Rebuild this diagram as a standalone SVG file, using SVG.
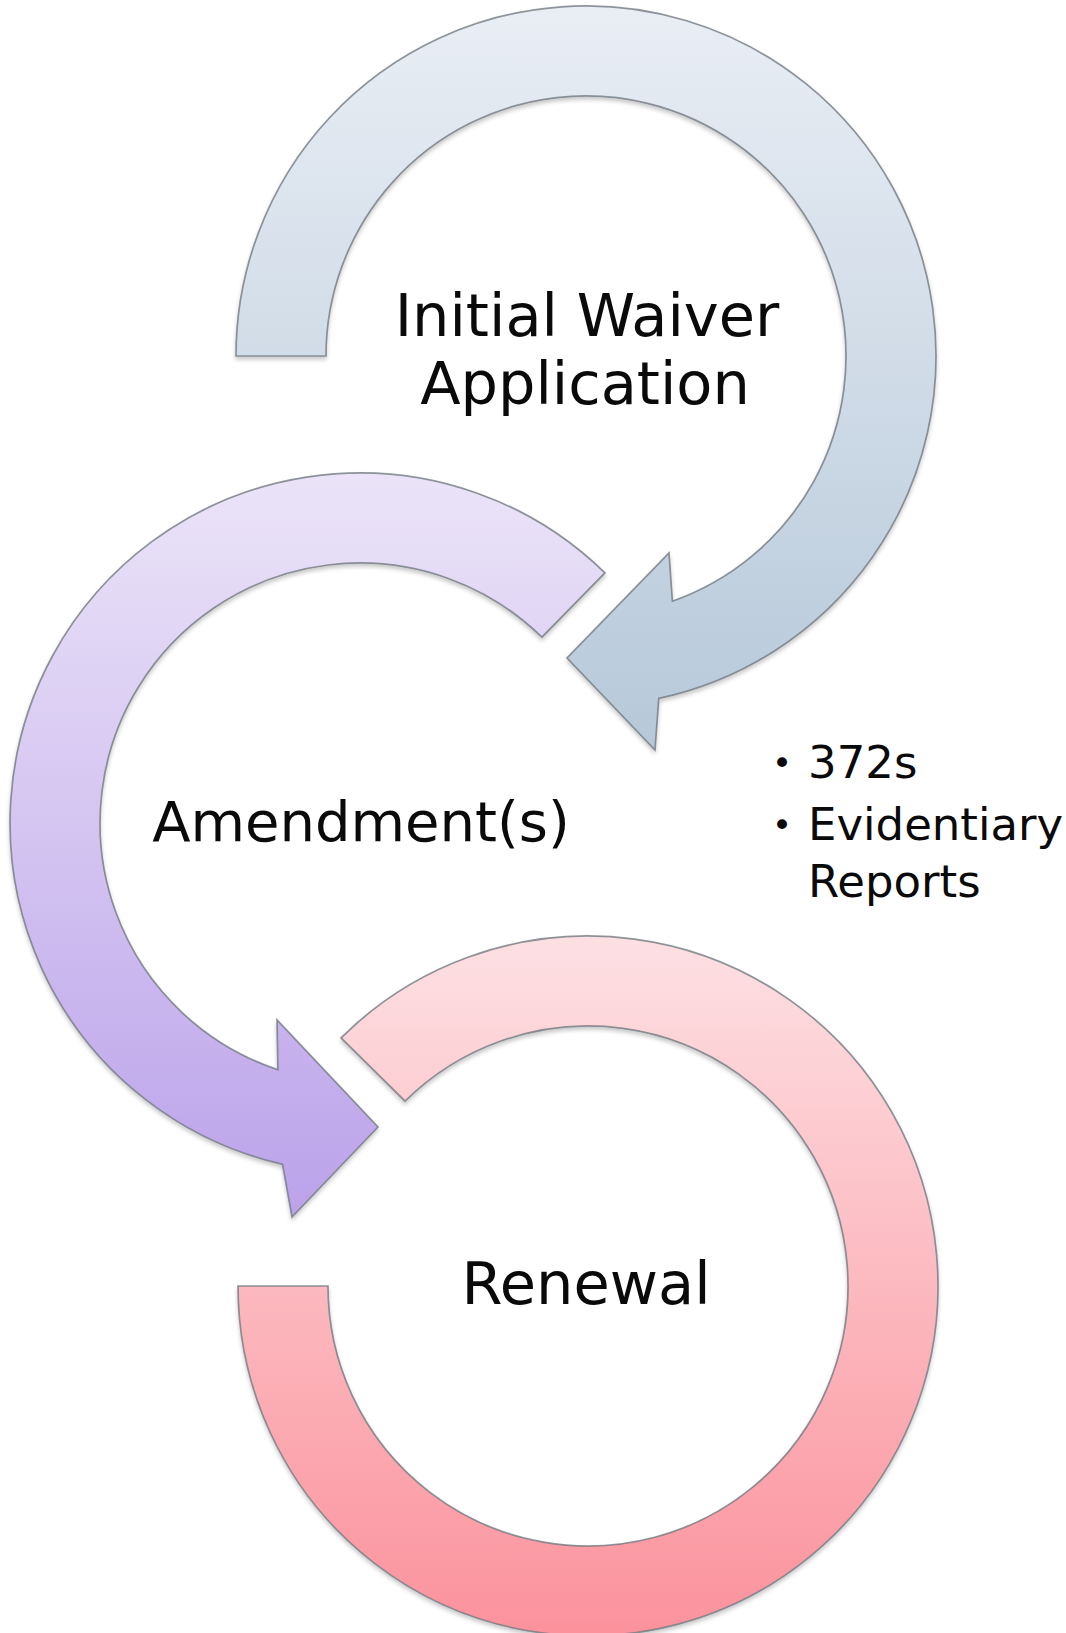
<svg xmlns="http://www.w3.org/2000/svg" width="1066" height="1633" viewBox="0 0 1066 1633">
  <style>
    .ring { stroke: #737a82; stroke-opacity: 0.8; stroke-width: 1.7; stroke-linejoin: miter; filter: url(#shadow); }
    .label { font-family: "DejaVu Sans", "Liberation Sans", sans-serif; font-size: 59px; fill: #0a0a0a; text-anchor: middle; }
    .bul { font-family: "DejaVu Sans", "Liberation Sans", sans-serif; font-size: 45px; fill: #0a0a0a; }
    .dot { font-family: "DejaVu Sans", "Liberation Sans", sans-serif; font-size: 34px; fill: #0a0a0a; }
  </style>
  <defs>
    <linearGradient id="gTop" gradientUnits="userSpaceOnUse" x1="0" y1="6" x2="0" y2="750">
      <stop offset="0" stop-color="#e9eef5"/>
      <stop offset="1" stop-color="#b6c8d9"/>
    </linearGradient>
    <linearGradient id="gAmend" gradientUnits="userSpaceOnUse" x1="0" y1="473" x2="0" y2="1217">
      <stop offset="0" stop-color="#ebe4f8"/>
      <stop offset="1" stop-color="#bba2ea"/>
    </linearGradient>
    <linearGradient id="gRenew" gradientUnits="userSpaceOnUse" x1="0" y1="936" x2="0" y2="1636">
      <stop offset="0" stop-color="#fde0e3"/>
      <stop offset="1" stop-color="#fb929c"/>
    </linearGradient>
    <filter id="shadow" x="-10%" y="-10%" width="120%" height="120%">
      <feGaussianBlur in="SourceAlpha" stdDeviation="2"/>
      <feOffset dx="0" dy="3" result="b"/>
      <feComponentTransfer><feFuncA type="linear" slope="0.22"/></feComponentTransfer>
      <feMerge><feMergeNode/><feMergeNode in="SourceGraphic"/></feMerge>
    </filter>
  </defs>
  <rect width="1066" height="1633" fill="#ffffff"/>

  <g id="node-initial-waiver">
    <path class="ring" fill="url(#gTop)" d="M 236 356 A 350 350 0 1 1 658.8 698.3 L 655 750 L 567 658 L 669 553 L 672.4 601.2 A 260 260 0 1 0 326 356 Z"/>
    <text class="label" x="587" y="336">Initial Waiver</text>
    <text class="label" x="585" y="404">Application</text>
  </g>

  <g id="node-amendment">
    <path class="ring" fill="url(#gAmend)" d="M 604.9 572.9 A 350 350 0 1 0 282.5 1164.3 L 292 1217 L 378 1127 L 277 1020 L 277.9 1069.7 A 260 260 0 1 1 541.9 637.2 Z"/>
    <text class="label" x="361" y="841" style="font-size:56px">Amendment(s)</text>
  </g>

  <g id="node-renewal">
    <path class="ring" fill="url(#gRenew)" d="M 238 1286 A 350 350 0 1 0 341.1 1037.9 L 405.1 1101.2 A 260 260 0 1 1 328 1286 Z"/>
    <text class="label" x="586" y="1304">Renewal</text>
  </g>

  <g id="node-bullets">
    <text class="dot" x="772" y="775">•</text>
    <text class="bul" x="808" y="778">372s</text>
    <text class="dot" x="772" y="837">•</text>
    <text class="bul" x="808" y="840">Evidentiary</text>
    <text class="bul" x="808" y="897">Reports</text>
  </g>

  <g id="connectors"/>
</svg>
